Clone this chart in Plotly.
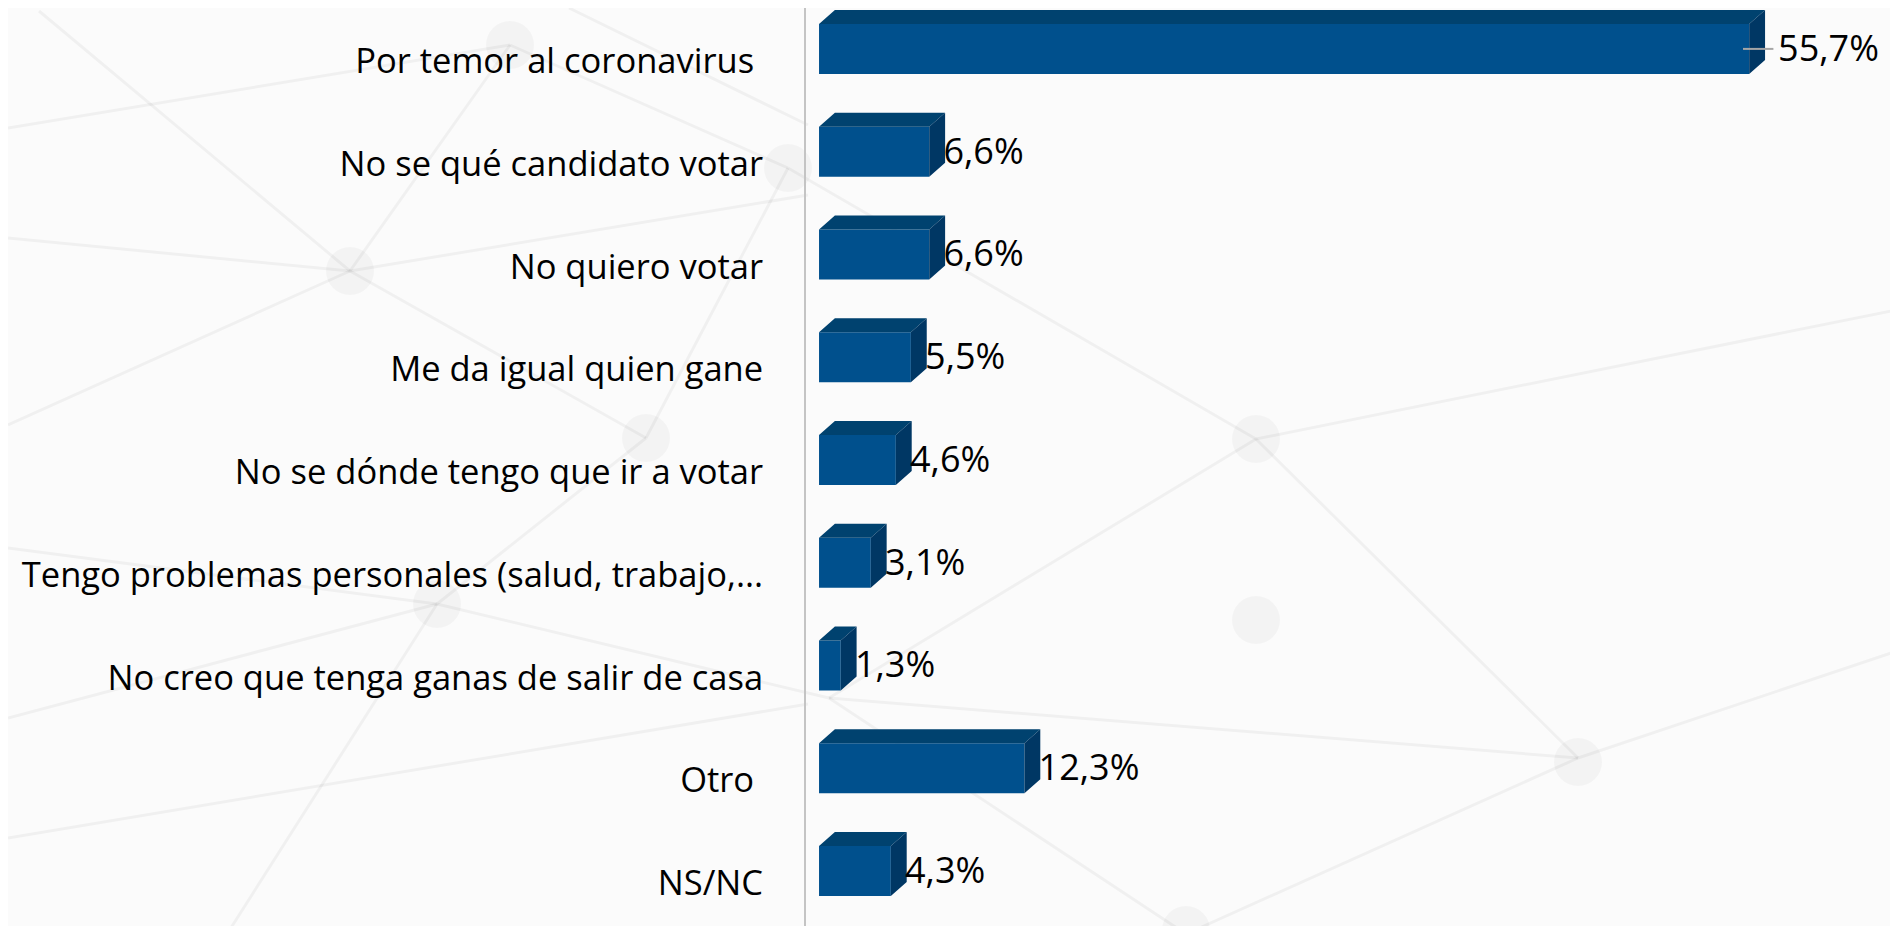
import plotly.graph_objects as go

categories = [
    "Por temor al coronavirus\u00a0",
    "No se qué candidato votar",
    "No quiero votar",
    "Me da igual quien gane",
    "No se dónde tengo que ir a votar",
    "Tengo problemas personales (salud, trabajo,...",
    "No creo que tenga ganas de salir de casa",
    "Otro\u00a0",
    "NS/NC",
]
values = [55.7, 6.6, 6.6, 5.5, 4.6, 3.1, 1.3, 12.3, 4.3]
value_labels = ["55,7%", "6,6%", "6,6%", "5,5%", "4,6%", "3,1%", "1,3%", "12,3%", "4,3%"]

front_col = "#00508D"
top_col = "#00426F"
side_col = "#003764"

idx = list(range(len(categories)))
bar_w = 0.487
shift = -0.118          # bars sit a little above the label centre
off = shift - bar_w / 2
dx = 0.95               # 3d depth in x units
dy = 0.136              # 3d depth in y units

W, H, L = 1898, 926, 798

fig = go.Figure()

# faint network picture behind the chart (pixel positions on the page)
bg_lines = [
    (31, 3, 342, 263), (342, 263, 502, 37), (0, 230, 342, 263), (342, 263, 800, 187),
    (342, 263, 638, 430), (0, 417, 342, 263), (561, 0, 800, 117), (502, 37, 780, 160),
    (780, 160, 638, 430), (0, 710, 429, 596), (429, 596, 219, 926), (429, 596, 638, 430),
    (0, 830, 800, 696), (0, 540, 429, 596), (429, 596, 821, 690), (821, 690, 1570, 750),
    (1570, 750, 1178, 926), (821, 690, 1178, 926), (821, 690, 1248, 431), (1248, 431, 1570, 750),
    (780, 160, 1248, 431), (1248, 431, 1898, 300), (1570, 750, 1898, 640), (502, 37, 0, 120),
]
bg_nodes = [(342, 263), (502, 37), (780, 160), (638, 430), (429, 596), (1248, 612),
            (1570, 754), (1178, 922), (1248, 431)]


def px(x):
    return (x - L) / (W - L)


def py(y):
    return 1 - y / H


for x0, y0, x1, y1 in bg_lines:
    fig.add_shape(type="line", xref="paper", yref="paper", x0=px(x0), y0=py(y0), x1=px(x1), y1=py(y1),
                  line=dict(color="rgba(0,0,0,0.045)", width=3), layer="below")
for cx, cy in bg_nodes:
    r = 24
    fig.add_shape(type="circle", xref="paper", yref="paper",
                  x0=px(cx - r), x1=px(cx + r), y0=py(cy + r), y1=py(cy - r),
                  fillcolor="rgba(0,0,0,0.03)", line=dict(width=0), layer="below")

# front faces
fig.add_trace(go.Bar(
    x=values, y=idx, orientation="h", width=bar_w, offset=off,
    marker=dict(color=front_col, line=dict(width=0)), hoverinfo="skip",
))

# top and side faces
tx, ty, sx, sy = [], [], [], []
for i, v in zip(idx, values):
    y_top = i + off
    y_bot = i + off + bar_w
    tx += [0, v, v + dx, dx, 0, None]
    ty += [y_top, y_top, y_top - dy, y_top - dy, y_top, None]
    sx += [v, v, v + dx, v + dx, v, None]
    sy += [y_top, y_bot, y_bot - dy, y_top - dy, y_top, None]
fig.add_trace(go.Scatter(x=tx, y=ty, fill="toself", fillcolor=top_col, mode="lines",
                         line=dict(width=0), hoverinfo="skip"))
fig.add_trace(go.Scatter(x=sx, y=sy, fill="toself", fillcolor=side_col, mode="lines",
                         line=dict(width=0), hoverinfo="skip"))

# value labels (the longest bar gets a leader line)
vmax = max(values)
lx, ly = [], []
for i, v in zip(idx, values):
    if v == vmax:
        lx.append(v + dx + 0.78)
        fig.add_trace(go.Scatter(x=[v - 0.37, v + dx + 0.5], y=[i + shift, i + shift], mode="lines",
                                 line=dict(color="#A6A6A6", width=2), hoverinfo="skip"))
    else:
        lx.append(v + dx - 0.1)
    ly.append(i + shift + 0.03)
fig.add_trace(go.Scatter(x=lx, y=ly, mode="text", text=value_labels, textposition="middle right",
                         textfont=dict(family="Open Sans", size=36, color="black"),
                         cliponaxis=False, hoverinfo="skip"))

fig.update_layout(
    width=W, height=H,
    margin=dict(l=L, r=0, t=0, b=0),
    paper_bgcolor="#FBFBFB", plot_bgcolor="rgba(0,0,0,0)",
    showlegend=False,
    font=dict(family="Open Sans", color="black"),
)
fig.update_xaxes(range=[-0.78, 65.09], showgrid=False, zeroline=False, showticklabels=False,
                 showline=False, automargin=False)
fig.update_yaxes(range=[8.496, -0.516], tickvals=idx, ticktext=categories,
                 tickfont=dict(family="Open Sans", size=34.5, color="black"),
                 showgrid=False, zeroline=False, showline=True, linecolor="#C4C4C4", linewidth=2,
                 ticks="", ticklabelstandoff=34, automargin=False)

fig.write_html("out.html")
